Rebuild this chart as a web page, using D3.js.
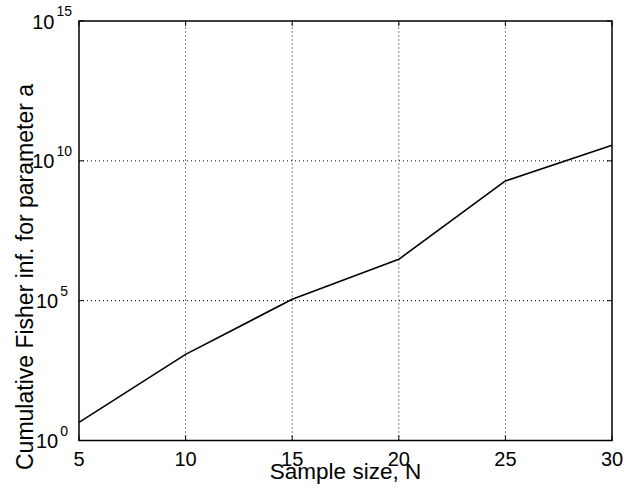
<!DOCTYPE html>
<html><head><meta charset="utf-8">
<script src="https://cdn.jsdelivr.net/npm/d3@7"></script>
<style>body{margin:0;background:#fff}svg{display:block}text{font-family:"Liberation Sans",Arial,sans-serif;fill:#000}</style>
</head><body>
<script>
const sampleSizes = [5, 10, 15, 20, 25, 30];
const fisherLog10 = [0.65, 3.08, 5.05, 6.48, 9.28, 10.56];
const xTicks = [5, 10, 15, 20, 25, 30];
const yTickExps = [0, 5, 10, 15];
const xLabel = "Sample size, N";
const yLabel = "Cumulative Fisher inf. for parameter a";

const W = 641, H = 489;
const m = {left: 79, right: 29, top: 21, bottom: 48.5};
const svg = d3.select("body").append("svg").attr("width", W).attr("height", H);
const x = d3.scaleLinear().domain([5, 30]).range([m.left, W - m.right]);
const y = d3.scaleLog().domain([1, 1e15]).range([H - m.bottom, m.top]);

const g = svg.append("g");
// grid
g.selectAll(".gx").data(xTicks.slice(1, -1)).enter().append("line")
  .attr("x1", d => x(d)).attr("x2", d => x(d)).attr("y1", y(1)).attr("y2", y(1e15))
  .attr("stroke", "#000").attr("stroke-width", 1).attr("stroke-dasharray", "1,3");
g.selectAll(".gy").data(yTickExps.slice(1, -1)).enter().append("line")
  .attr("x1", x(5)).attr("x2", x(30)).attr("y1", d => y(Math.pow(10, d))).attr("y2", d => y(Math.pow(10, d)))
  .attr("stroke", "#000").attr("stroke-width", 1).attr("stroke-dasharray", "1,3");

// box
g.append("rect").attr("x", x(5)).attr("y", y(1e15)).attr("width", x(30) - x(5)).attr("height", y(1) - y(1e15))
  .attr("fill", "none").attr("stroke", "#000").attr("stroke-width", 1.5);

// ticks (inward, both sides)
const tl = 5;
xTicks.forEach(t => {
  g.append("line").attr("x1", x(t)).attr("x2", x(t)).attr("y1", y(1)).attr("y2", y(1) - tl).attr("stroke", "#000");
  g.append("line").attr("x1", x(t)).attr("x2", x(t)).attr("y1", y(1e15)).attr("y2", y(1e15) + tl).attr("stroke", "#000");
});
yTickExps.forEach(e => {
  const yy = y(Math.pow(10, e));
  g.append("line").attr("x1", x(5)).attr("x2", x(5) + tl).attr("y1", yy).attr("y2", yy).attr("stroke", "#000");
  g.append("line").attr("x1", x(30)).attr("x2", x(30) - tl).attr("y1", yy).attr("y2", yy).attr("stroke", "#000");
});

// x tick labels
g.selectAll(".xl").data(xTicks).enter().append("text")
  .attr("x", d => x(d)).attr("y", y(1) + 25).attr("text-anchor", "middle")
  .attr("font-size", 20).text(d => d);

// y tick labels 10^e
yTickExps.forEach(e => {
  const yy = y(Math.pow(10, e));
  const expEnd = e >= 10 ? 72 : 68;
  const ex = g.append("text").attr("x", expEnd).attr("y", yy - 5)
    .attr("text-anchor", "end").attr("font-size", 14).text(e);
  const exW = ex.node().getComputedTextLength();
  g.append("text").attr("x", expEnd - exW - 2).attr("y", yy + 7.5)
    .attr("text-anchor", "end").attr("font-size", 20).text("10");
});

// line
const line = d3.line().x((d, i) => x(sampleSizes[i])).y(d => y(Math.pow(10, d)));
g.append("path").datum(fisherLog10).attr("d", line).attr("fill", "none")
  .attr("stroke", "#000").attr("stroke-width", 1.6).attr("stroke-linejoin", "round");

// axis labels
svg.append("text").attr("x", (x(5) + x(30)) / 2).attr("y", 479).attr("text-anchor", "middle")
  .attr("font-size", 22.5).text(xLabel);
svg.append("text").attr("transform", "translate(33,277) rotate(-90)").attr("text-anchor", "middle")
  .attr("font-size", 23).text(yLabel);
</script>
</body></html>
